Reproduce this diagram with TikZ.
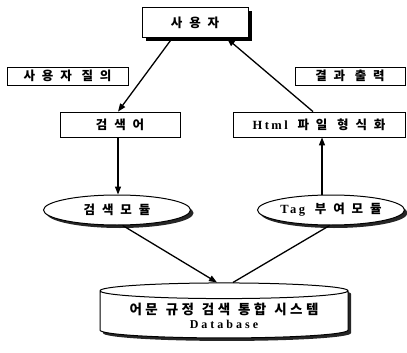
\documentclass[tikz,border=0pt]{standalone}
\usepackage{fontspec}
\setmainfont{Liberation Serif}
\newfontfamily\kr{Noto Sans CJK KR Black}[LetterSpace=55]
\newfontfamily\krdb{Noto Sans CJK KR Black}[LetterSpace=25]
\newfontfamily\lat{Liberation Serif}[LetterSpace=20]
\usetikzlibrary{shapes.geometric,shadows,arrows.meta}

\tikzset{dropshade/.style={drop shadow={shadow xshift=3pt,shadow yshift=-3pt,fill=black!85,opacity=1}}}
\def\wgap{\hspace{8pt}}

\begin{document}
\begin{tikzpicture}[x=1pt,y=-1pt,
    nodes = {font=\kr\fontsize{12.5}{14}\selectfont},
    box/.style = {draw, fill=white, line width=.8pt, inner sep=0pt},
    module/.style = {draw, ellipse, fill=white, line width=1pt, inner sep=0pt,
      minimum width=147pt, minimum height=30pt, dropshade},
    flow/.style = {line width=1.3pt, -{Triangle[length=8pt,width=6pt]}}]
  \useasboundingbox (0,0) rectangle (407,353);

  % boxes
  \node[box, minimum width=106pt, minimum height=30pt, line width=1pt,
    drop shadow={shadow xshift=3.5pt,shadow yshift=-3.5pt,fill=black,opacity=1}]
    (user) at (195,23) {사용자};
  \node[box, minimum width=121pt, minimum height=18pt] (query) at (67.5,76) {사용자 질의};
  \node[box, minimum width=110pt, minimum height=18pt] (result) at (350,76) {결과 출력};
  \node[box, minimum width=120pt, minimum height=25pt] (keyword) at (120,124.5) {검색어};
  \node[box, minimum width=172pt, minimum height=25pt] (html) at (319,124.5)
    {{\lat\bfseries Html} 파일 형식화};

  % modules
  \node[module] (search) at (117,210) {검색모듈};
  \node[module] (tag) at (331,210) {{\lat\bfseries Tag} 부여모듈};

  % database
  \node[draw, cylinder, shape border rotate=90, aspect=.08, fill=white,
    line width=1pt, minimum width=248pt, minimum height=55pt, align=center,
    dropshade] (db) at (224,315.5)
    {{\krdb\fontsize{13.5}{15}\selectfont 어문\wgap 규정\wgap 검색\wgap 통합\wgap 시스템}\\[0pt]
     {\lat\bfseries\addfontfeature{LetterSpace=25}\fontsize{12}{12}\selectfont Database}};

  % connectors
  \draw[flow] ([xshift=-23pt]user.south) -- ([xshift=-2pt]keyword.north);
  \draw[flow] ([xshift=-6pt]html.north) -- ([xshift=32pt]user.south);
  \draw[flow] ([xshift=-2pt]keyword.south) -- ([xshift=-2pt]keyword.south |- search.north);
  \draw[flow] ([xshift=-9pt]tag.north) -- ([xshift=-9pt]tag.north |- html.south);
  \draw[flow] (search.-70) -- ([xshift=-7pt]db.north);
  \draw[line width=1.3pt] ([xshift=9pt]db.north) -- (tag.-95);
\end{tikzpicture}
\end{document}
